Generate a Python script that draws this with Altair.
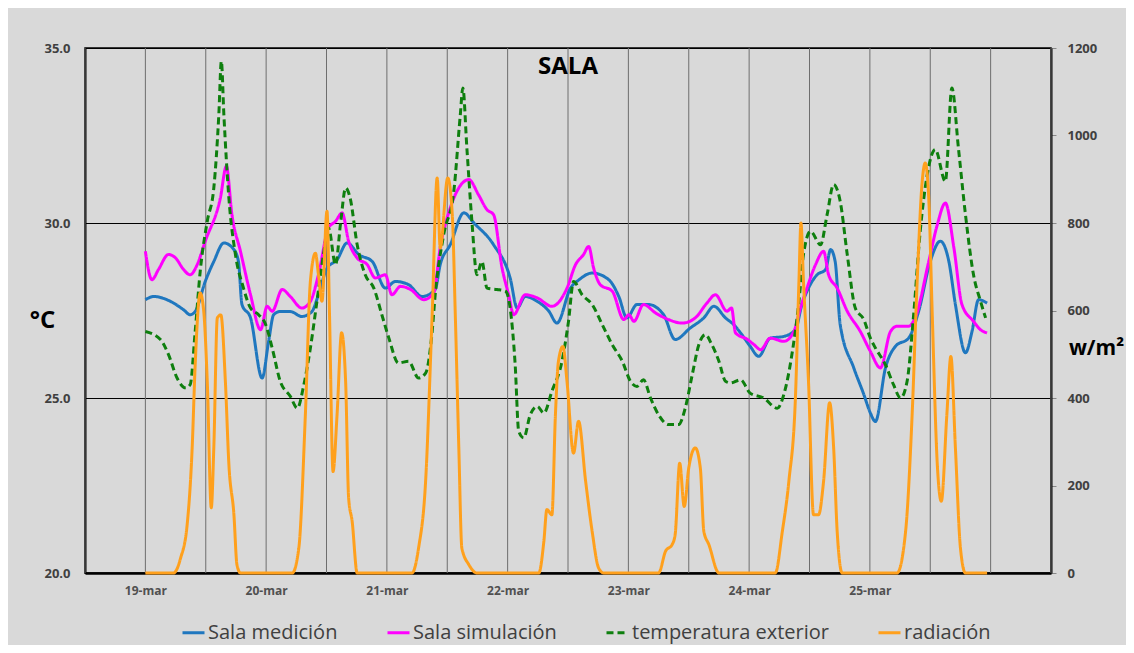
import altair as alt
import pandas as pd

# ---------------- data (hours from 19-mar 00:00) ----------------
day_labels = ["19-mar", "20-mar", "21-mar", "22-mar", "23-mar", "24-mar", "25-mar"]
series_names = ["Sala medición", "Sala simulación", "temperatura exterior", "radiación"]
series_colors = ["#1F77BF", "#FF00FF", "#0E7F0E", "#FFA01C"]

med_h = [0, 1.7, 5, 7.6, 8.9, 9.9, 11.9, 13.6, 15.6, 17.6, 18.5, 19.2, 20.9, 23.2, 24.5, 25.5,
         26.8, 28.8, 31.1, 33.1, 34.4, 36.1, 38.1, 40.1, 42.4, 45.1, 47.7, 49.7, 52.3, 55, 57.6,
         58.6, 60.6, 63.3, 65.3, 69.2, 72.5, 73.9, 75.5, 77.9, 80.2, 81.8, 84.5, 86.2, 88.8,
         92.1, 94.1, 95.7, 97.7, 100, 103, 105.3, 108.3, 111, 113, 115.3, 116.9, 118.3, 120.2,
         121.9, 124.2, 126.9, 129.2, 130.5, 131.8, 133.5, 135.2, 136.2, 137.1, 138.1, 140.8,
         142.8, 144.1, 145.1, 147.1, 149.1, 151.7, 153.7, 156, 158, 159.7, 161, 163, 164.3,
         165.6, 167.3]
med_v = [27.81, 27.90, 27.76, 27.52, 27.38, 27.47, 28.33, 28.90, 29.43, 29.24, 28.90, 27.67,
         27.29, 25.57, 26.62, 27.38, 27.47, 27.47, 27.33, 27.47, 27.95, 28.71, 28.95, 29.43,
         29.10, 28.90, 28.14, 28.33, 28.24, 27.90, 28.10, 28.81, 29.38, 30.29, 30.00, 29.38,
         28.43, 27.57, 27.90, 27.76, 27.48, 27.14, 28.14, 28.38, 28.57, 28.38, 27.90, 27.29,
         27.67, 27.67, 27.38, 26.67, 27.00, 27.29, 27.62, 27.29, 27.10, 26.86, 26.48, 26.19,
         26.71, 26.76, 26.95, 27.67, 28.14, 28.52, 28.67, 29.24, 28.90, 27.10, 25.86, 25.10,
         24.57, 24.33, 25.86, 26.48, 26.71, 27.48, 28.90, 29.48, 28.90, 27.67, 26.29, 26.90,
         27.81, 27.71]

sim_h = [0, 1.3, 2.6, 4.6, 6, 7.6, 8.9, 10.3, 11.9, 14.9, 16.1, 17.2, 18.9, 20.9, 22.9, 24.2,
         25.2, 27.2, 28.8, 31.1, 32.8, 34.4, 36.4, 37.8, 39.1, 40.4, 42.1, 44.1, 45.7, 47.7, 49,
         50.7, 52.7, 55.3, 57.3, 58.6, 60.6, 64.3, 66.2, 67.9, 69.2, 70.9, 72.2, 73.2, 75.5,
         77.9, 80.8, 83.8, 85.5, 87.1, 88.1, 89.1, 90.4, 92.8, 95.1, 96.1, 97.1, 99, 101.4, 104,
         106.7, 109.3, 111.6, 113.3, 115.6, 116.5, 117.3, 119.7, 121, 122.3, 124.2, 126.9,
         128.9, 130.2, 131.5, 133.2, 134.8, 135.8, 137.5, 139.5, 142.1, 144.1, 146.1, 148.1,
         149.4, 151.7, 153, 155.7, 157.4, 159, 160.7, 162.3, 164.6, 166, 167.3]
sim_v = [29.19, 28.38, 28.67, 29.10, 29.00, 28.67, 28.52, 28.81, 29.48, 30.71, 31.62, 30.24,
         29.19, 27.95, 26.95, 27.62, 27.48, 28.10, 27.90, 27.57, 27.76, 28.52, 29.86, 30.05,
         30.29, 29.48, 29.00, 28.81, 28.43, 28.52, 27.95, 28.19, 28.10, 27.81, 28.00, 29.29,
         30.43, 31.24, 30.81, 30.38, 30.24, 28.71, 27.95, 27.38, 27.95, 27.86, 27.62, 28.14,
         28.81, 29.10, 29.33, 28.71, 28.24, 28.05, 27.24, 27.38, 27.19, 27.67, 27.43, 27.24,
         27.14, 27.29, 27.71, 27.95, 27.48, 27.57, 26.86, 26.67, 26.52, 26.38, 26.71, 26.62,
         26.90, 27.57, 28.14, 28.81, 29.19, 28.52, 28.14, 27.48, 26.90, 26.33, 25.86, 26.90,
         27.05, 27.05, 27.29, 28.90, 29.95, 30.57, 29.29, 27.67, 27.19, 26.95, 26.86]

ext_h = [0, 3, 4.6, 6.3, 8, 8.9, 9.9, 10.9, 12.3, 13.6, 14.6, 15.1, 15.6, 16.6, 17.9, 19.5,
         20.9, 22.5, 23.9, 25.2, 26.8, 28.8, 30.2, 31.5, 32.8, 34.1, 35.4, 36.4, 37.8, 38.8,
         39.8, 40.7, 42.1, 43.7, 45.4, 47, 48.4, 50.3, 52.3, 54.3, 55.7, 57, 57.6, 59.3, 61.3,
         62.6, 63.1, 63.9, 64.9, 65.9, 66.9, 67.9, 69.9, 71.6, 72.5, 73.5, 74.2, 75.2, 76.5,
         77.9, 79.2, 80.8, 82.8, 84.1, 85.1, 86.8, 88.8, 90.8, 92.8, 94.8, 96.4, 97.7, 99,
         100.4, 102, 104, 106, 107.3, 108.7, 110, 111.3, 112.6, 114, 115.3, 116.3, 118.3, 120.2,
         122.9, 125.6, 126.9, 128.5, 129.9, 130.8, 132.2, 134.2, 135.5, 136.8, 138.1, 139.5,
         141.1, 142.8, 144.1, 145.1, 147.1, 148.7, 150.1, 151.4, 152.7, 154, 155.4, 157, 159,
         160.3, 161.6, 163, 164.6, 166, 167]
ext_v = [26.90, 26.67, 26.24, 25.57, 25.29, 25.38, 26.90, 28.62, 30.05, 31.00, 33.10, 34.62,
         33.10, 30.71, 29.10, 28.14, 27.57, 27.38, 27.10, 26.43, 25.48, 25.05, 24.71, 25.38,
         26.43, 27.76, 29.10, 29.86, 28.81, 30.00, 31.00, 30.71, 29.38, 28.52, 28.14, 27.38,
         26.71, 26.00, 26.05, 25.57, 25.71, 26.90, 27.95, 29.67, 30.90, 33.10, 33.86, 32.14,
         30.05, 28.52, 28.90, 28.14, 28.10, 28.05, 27.57, 25.95, 24.05, 23.86, 24.52, 24.76,
         24.57, 25.19, 26.05, 27.19, 28.33, 27.95, 27.67, 27.10, 26.52, 26.05, 25.48, 25.33,
         25.52, 25.00, 24.52, 24.24, 24.24, 24.71, 25.67, 26.52, 26.81, 26.52, 26.05, 25.48,
         25.43, 25.52, 25.14, 25.00, 24.71, 25.10, 26.24, 27.76, 29.10, 29.76, 29.38, 30.24,
         31.10, 30.62, 29.10, 27.57, 27.24, 26.71, 26.43, 25.95, 25.38, 25.00, 25.48, 27.38,
         29.76, 31.38, 32.10, 31.19, 33.86, 32.14, 30.24, 28.52, 27.76, 27.29]

rad_h = [0, 5.6, 7, 8.3, 9.3, 9.9, 10.9, 11.6, 12.3, 13.1, 13.6, 14.3, 15, 15.9, 16.6, 17.6,
         18.2, 18.9, 29.2, 30.5, 31.8, 32.8, 33.8, 34.4, 35.1, 36.1, 36.6, 37.3, 38.1, 39, 39.8,
         40.4, 41.1, 42.1, 53, 54.3, 55.7, 57, 58, 58.6, 60.1, 61, 61.6, 62.3, 62.9, 64.3, 65.9,
         78.2, 79.2, 79.8, 80.8, 81.5, 82.1, 83, 83.8, 85.1, 86.1, 87.5, 88.8, 90.1, 91.1, 102,
         103.4, 104.7, 105.3, 106.2, 107.1, 108, 109.3, 110.3, 111, 112, 114, 125.2, 126.6,
         127.9, 129.2, 129.9, 130.3, 130.8, 131.8, 132.8, 133.8, 134.8, 136, 136.8, 137.5,
         138.5, 149.4, 151.1, 152.4, 153.4, 154.4, 155, 155.7, 156.4, 157.4, 158.2, 159.3,
         160.1, 161, 162, 163, 167.3]
rad_v = [0, 0, 34, 110, 286, 476, 640, 598, 438, 149, 286, 583, 590, 438, 248, 133, 19, 0, 0,
         57, 362, 667, 731, 682, 621, 827, 590, 232, 362, 549, 438, 171, 118, 0, 0, 57, 210,
         590, 903, 743, 903, 819, 590, 286, 57, 19, 0, 0, 72, 145, 133, 362, 484, 518, 438,
         274, 347, 210, 95, 11, 0, 0, 50, 65, 88, 251, 152, 240, 286, 240, 95, 65, 0, 0, 95,
         210, 400, 667, 800, 667, 438, 133, 133, 210, 389, 286, 95, 0, 0, 95, 362, 667, 895,
         937, 857, 590, 248, 164, 362, 495, 286, 57, 0, 0]

grid_h = list(range(-12, 181, 12))
day_ticks = [24 * i for i in range(len(day_labels))]

# ---------------- tables ----------------
rows = []
for name, hs, vs in [(series_names[0], med_h, med_v),
                     (series_names[1], sim_h, sim_v),
                     (series_names[2], ext_h, ext_v)]:
    for h, v in zip(hs, vs):
        rows.append({"hora": h, "valor": v, "serie": name})
temp_df = pd.DataFrame(rows)
rad_df = pd.DataFrame({"hora": rad_h, "valor": rad_v, "serie": series_names[3]})
grid_df = pd.DataFrame({"hora": grid_h})
title_df = pd.DataFrame({"t": ["SALA"]})

FONT = "Open Sans"
label_expr = "[" + ",".join("'%s'" % d for d in day_labels) + "][round(datum.value/24)]"

x_enc = alt.X(
    "hora:Q",
    scale=alt.Scale(domain=[-12, 180], nice=False, zero=False),
    axis=alt.Axis(values=day_ticks, labelExpr=label_expr, title=None, grid=False,
                  ticks=False, tickSize=0, domainColor="#000", domainWidth=2.5,
                  labelFont=FONT, labelFontSize=12, labelFontWeight="bold",
                  labelColor="#505050", labelPadding=12),
)

color_enc = alt.Color(
    "serie:N",
    scale=alt.Scale(domain=series_names, range=series_colors),
    legend=alt.Legend(
        title=None, orient="none", direction="horizontal", legendX=96, legendY=572,
        symbolType="stroke", symbolSize=484, symbolStrokeWidth=3, labelOffset=2,
        columnPadding=43, labelFont=FONT, labelFontSize=20, labelColor="#404040",
        labelLimit=400, padding=0,
    ),
)
dash_enc = alt.StrokeDash(
    "serie:N",
    scale=alt.Scale(domain=series_names, range=[[1, 0], [1, 0], [7, 4], [1, 0]]),
    legend=None,
)

grid = alt.Chart(grid_df).mark_rule(color="#6e6e6e", strokeWidth=1).encode(x=x_enc)

temps = alt.Chart(temp_df).mark_line(strokeWidth=3, interpolate="monotone").encode(
    x=x_enc,
    y=alt.Y("valor:Q",
            scale=alt.Scale(domain=[20, 35], nice=False, zero=False),
            axis=alt.Axis(orient="left", values=[20, 25, 30, 35], format=".1f",
                          title="°C", titleAngle=0, titleX=-43, titleY=272,
                          titleAlign="center", titleBaseline="middle",
                          titleFont=FONT, titleFontSize=24, titleFontWeight="bold",
                          titleColor="#000",
                          grid=True, gridColor="#000", gridWidth=1,
                          ticks=False, tickSize=0, domainColor="#000", domainWidth=2,
                          labelFont=FONT, labelFontSize=13, labelFontWeight="bold",
                          labelColor="#404040", labelPadding=15)),
    color=color_enc,
    strokeDash=dash_enc,
)

rad = alt.Chart(rad_df).mark_line(strokeWidth=3, interpolate="monotone").encode(
    x=x_enc,
    y=alt.Y("valor:Q",
            scale=alt.Scale(domain=[0, 1200], nice=False, zero=False),
            axis=alt.Axis(orient="right", values=list(range(0, 1201, 200)), format="d",
                          title="w/m²", titleAngle=0, titleX=45, titleY=300,
                          titleAlign="center", titleBaseline="middle",
                          titleFont=FONT, titleFontSize=21, titleFontWeight="bold",
                          titleColor="#000",
                          grid=False, ticks=True, tickSize=5, tickColor="#888",
                          domainColor="#000", domainWidth=2,
                          labelFont=FONT, labelFontSize=13, labelFontWeight="bold",
                          labelColor="#404040", labelPadding=11)),
    color=color_enc,
    strokeDash=dash_enc,
)

title = alt.Chart(title_df).mark_text(
    font=FONT, fontSize=24, fontWeight="bold", color="#000", align="center", baseline="middle"
).encode(text="t:N", x=alt.value(483), y=alt.value(19))

chart = (
    alt.layer(grid, temps, rad, title)
    .resolve_scale(y="independent")
    .properties(width=966, height=525,
                autosize=alt.AutoSizeParams(type="none"),
                padding={"left": 77, "top": 40, "right": 75, "bottom": 72},
                background="#d9d9d9")
    .configure_view(stroke="#000", strokeWidth=1.5)
)

chart.save("out.html", embed_options={"renderer": "svg", "actions": False})
